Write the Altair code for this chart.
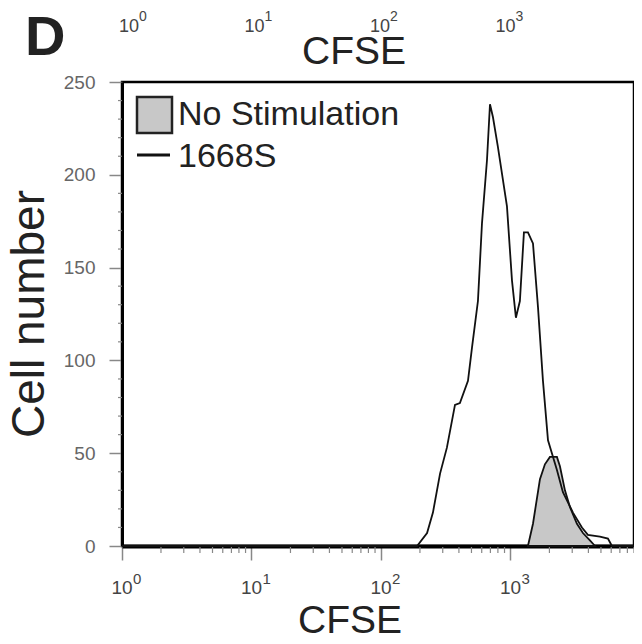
import altair as alt
import pandas as pd

# ---- data ----
s1668_cfse = [1, 190, 227, 252, 286, 323, 373, 407, 470, 505, 561, 603, 659, 695, 733, 800,
              940, 1028, 1102, 1183, 1271, 1365, 1493, 1631, 1783, 1950, 2286, 2543, 3040,
              3565, 3964, 4909, 5662, 5866, 6081, 9000]
s1668_count = [0, 0, 7, 18, 39, 53, 76, 77, 89, 107, 132, 174, 208, 238, 231, 215,
               183, 143, 123, 132, 169, 169, 163, 129, 89, 57, 41, 29, 18,
               10, 6, 5, 4, 2, 0, 0]

nostim_cfse = [1365, 1493, 1690, 1846, 2018, 2286, 2411, 2636, 2880, 3263, 3631, 4111, 4498]
nostim_count = [0, 12, 36, 44, 48, 48, 43, 30, 21, 12, 7, 3, 0]

x_major = [1, 10, 100, 1000]
x_exps = ["0", "1", "2", "3"]
x_minor = [m * 10 ** k for k in range(4) for m in range(2, 10)]
y_major = [0, 50, 100, 150, 200, 250]
y_minor = [v for v in range(10, 250, 10) if v % 50 != 0]

legend_labels = ["No Stimulation", "1668S"]

W, H = 512, 464
FONT = "Liberation Sans"

xscale = alt.Scale(type="log", domain=[1, 9000], nice=False)
yscale = alt.Scale(domain=[0, 250], nice=False)

df_ns = pd.DataFrame({"cfse": nostim_cfse, "count": nostim_count})
df_s = pd.DataFrame({"cfse": s1668_cfse, "count": s1668_count})
df_xmaj = pd.DataFrame({"v": x_major, "e": x_exps})
df_xmin = pd.DataFrame({"v": x_minor})
df_ymin = pd.DataFrame({"v": y_minor})
one = pd.DataFrame({"a": [0]})

area = alt.Chart(df_ns).mark_area(
    color="#c8c8c8", stroke="#111", strokeWidth=1.8, interpolate="linear"
).encode(
    x=alt.X("cfse:Q", scale=xscale, axis=alt.Axis(
        values=x_major, labels=False, title=None, grid=False,
        tickSize=14, tickColor="#888", tickWidth=1.5,
        domainColor="black", domainWidth=4)),
    y=alt.Y("count:Q", scale=yscale, axis=alt.Axis(
        values=y_major, title=None, grid=False,
        tickSize=13, tickColor="#888", tickWidth=1.5,
        labelPadding=14, labelFontSize=19, labelColor="#666", labelFont=FONT,
        domainColor="black", domainWidth=3)),
)

line = alt.Chart(df_s).mark_line(color="#111", strokeWidth=1.8).encode(
    x="cfse:Q", y="count:Q"
)

xminor = alt.Chart(df_xmin).mark_rule(color="#888", strokeWidth=1.2).encode(
    x=alt.X("v:Q", scale=xscale), y=alt.value(H + 1), y2=alt.value(H + 7)
)
yminor = alt.Chart(df_ymin).mark_rule(color="#888", strokeWidth=1.2).encode(
    y=alt.Y("v:Q", scale=yscale), x=alt.value(-4), x2=alt.value(0)
)

xlab = alt.Chart(df_xmaj).mark_text(
    font=FONT, fontSize=19, color="#444", align="center", baseline="alphabetic"
).encode(x=alt.X("v:Q", scale=xscale), y=alt.value(H + 48), text=alt.value("10"))
xsup = alt.Chart(df_xmaj).mark_text(
    font=FONT, fontSize=15, color="#444", align="left", baseline="alphabetic", dx=11
).encode(x=alt.X("v:Q", scale=xscale), y=alt.value(H + 38), text="e:N")

# cropped axis of the panel above (decoration)
top_df = pd.DataFrame({"e": x_exps, "px": [7 + 125.5 * i for i in range(4)]})
toplab = alt.Chart(top_df).mark_text(
    font=FONT, fontSize=18, color="#444", align="center", baseline="alphabetic"
).encode(x=alt.X("px:Q", scale=None), y=alt.value(-50), text=alt.value("10"))
topsup = alt.Chart(top_df).mark_text(
    font=FONT, fontSize=14, color="#444", align="left", baseline="alphabetic", dx=10
).encode(x=alt.X("px:Q", scale=None), y=alt.value(-61), text="e:N")

def label(txt, x, y, size, **kw):
    return alt.Chart(one).mark_text(
        text=txt, font=FONT, fontSize=size, color="#222", baseline="alphabetic", **kw
    ).encode(x=alt.value(x), y=alt.value(y))

panel = label("D", -97, -27, 56, fontWeight="bold", align="left")
top_title = label("CFSE", 232, -18, 39, align="center")
x_title = label("CFSE", 228, 551, 39, align="center")
y_title = label("Cell number", -78, H / 2, 46, align="center", angle=270)

leg_box = alt.Chart(one).mark_rect(
    fill="#c8c8c8", stroke="#222", strokeWidth=2.5
).encode(x=alt.value(15), x2=alt.value(50), y=alt.value(15), y2=alt.value(51))
leg_line = alt.Chart(one).mark_rule(color="#111", strokeWidth=3).encode(
    x=alt.value(15), x2=alt.value(48), y=alt.value(73)
)
leg_t1 = label(legend_labels[0], 56, 43, 34, align="left")
leg_t2 = label(legend_labels[1], 56, 85, 34, align="left")

chart = alt.layer(
    area, line, xminor, yminor, xlab, xsup, toplab, topsup,
    panel, top_title, x_title, y_title, leg_box, leg_line, leg_t1, leg_t2
).properties(
    width=W, height=H,
    padding={"left": 114, "top": 74, "right": 0, "bottom": 90},
    autosize=alt.AutoSizeParams(type="none"),
    background="white",
).configure_view(stroke="black", strokeWidth=2.5)

chart.save("out.html", embed_options={"renderer": "svg", "actions": False})
